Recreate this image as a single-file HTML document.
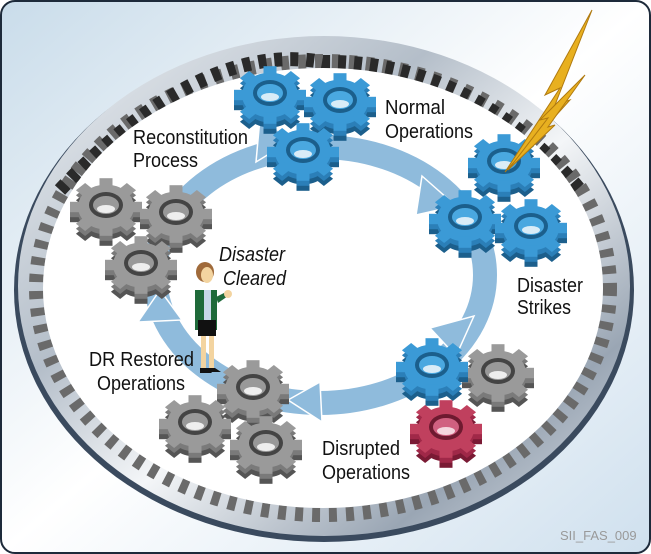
<!DOCTYPE html>
<html><head><meta charset="utf-8"><style>
html,body{margin:0;padding:0;width:651px;height:554px;overflow:hidden;background:#fff}
svg{display:block}
text{font-family:"Liberation Sans",sans-serif;font-size:20px;fill:#111}
</style></head><body>
<svg width="651" height="554" viewBox="0 0 651 554" xmlns="http://www.w3.org/2000/svg">
<defs>
<linearGradient id="bg" x1="0" y1="0" x2="1" y2="1">
<stop offset="0" stop-color="#c9dcea"/><stop offset="0.5" stop-color="#ffffff"/><stop offset="1" stop-color="#cfe0ee"/></linearGradient>
<linearGradient id="ring" x1="0" y1="0" x2="1" y2="1">
<stop offset="0" stop-color="#eef1f4"/><stop offset="0.35" stop-color="#b4bec9"/><stop offset="0.55" stop-color="#f4f6f8"/><stop offset="0.8" stop-color="#9aa6b4"/><stop offset="1" stop-color="#dfe4ea"/></linearGradient>
<g id="gs">
<circle r="28"/>
<rect x="-6.5" y="-36" width="13" height="14"/>
<rect x="-6.5" y="-36" width="13" height="14" transform="rotate(45)"/>
<rect x="-6.5" y="-36" width="13" height="14" transform="rotate(90)"/>
<rect x="-6.5" y="-36" width="13" height="14" transform="rotate(135)"/>
<rect x="-6.5" y="-36" width="13" height="14" transform="rotate(180)"/>
<rect x="-6.5" y="-36" width="13" height="14" transform="rotate(225)"/>
<rect x="-6.5" y="-36" width="13" height="14" transform="rotate(270)"/>
<rect x="-6.5" y="-36" width="13" height="14" transform="rotate(315)"/>
</g>
<g id="gb">
<g transform="translate(0,10) scale(1,0.8)" fill="#1c5f8c"><use href="#gs"/></g>
<g fill="#2b7fb8" transform="translate(0,5) scale(1,0.8)"><use href="#gs"/></g>
<g fill="#3b9ad6" transform="scale(1,0.8)"><use href="#gs"/></g>
<ellipse cx="0" cy="-2" rx="17" ry="13" fill="#1b5f8c"/>
<ellipse cx="0" cy="-2" rx="13" ry="9" fill="#4aa8e0"/>
<ellipse cx="0" cy="2" rx="9" ry="4" fill="#d9ecf7"/>
</g>
<g id="gg">
<g transform="translate(0,10) scale(1,0.8)" fill="#555"><use href="#gs"/></g>
<g fill="#7a7a7a" transform="translate(0,5) scale(1,0.8)"><use href="#gs"/></g>
<g fill="#9a9a9a" transform="scale(1,0.8)"><use href="#gs"/></g>
<ellipse cx="0" cy="-2" rx="17" ry="13" fill="#444"/>
<ellipse cx="0" cy="-2" rx="13" ry="9" fill="#999"/>
<ellipse cx="0" cy="2" rx="9" ry="4" fill="#eee"/>
</g>
<g id="gr">
<g transform="translate(0,10) scale(1,0.8)" fill="#7a1a34"><use href="#gs"/></g>
<g fill="#a02848" transform="translate(0,5) scale(1,0.8)"><use href="#gs"/></g>
<g fill="#c0405e" transform="scale(1,0.8)"><use href="#gs"/></g>
<ellipse cx="0" cy="-2" rx="17" ry="13" fill="#6e1a30"/>
<ellipse cx="0" cy="-2" rx="13" ry="9" fill="#d06080"/>
<ellipse cx="0" cy="2" rx="9" ry="4" fill="#f4d6de"/>
</g>
</defs>
<rect x="1" y="1" width="649" height="552" rx="14" fill="url(#bg)" stroke="#1d2a3a" stroke-width="2"/>
<!-- ring -->
<ellipse cx="324" cy="290" rx="310" ry="252" fill="#3a4a5e"/>
<ellipse cx="324" cy="286" rx="306" ry="250" fill="url(#ring)"/>
<ellipse cx="323" cy="288" rx="287" ry="227" fill="none" stroke="#6a6a6a" stroke-width="14" stroke-dasharray="8 9"/>
<path d="M60,190 Q200,40 323,62 Q470,60 580,190" fill="none" stroke="#2a2a2a" stroke-width="14" stroke-dasharray="8 8"/>
<ellipse cx="323" cy="288" rx="280" ry="220" fill="#fff"/>
<!-- blue arrow ring -->
<ellipse cx="320" cy="275" rx="165" ry="128" fill="none" stroke="#8fbbdc" stroke-width="24"/>
<g fill="#8fbbdc" stroke="#fff" stroke-width="1.5">
<polygon points="260,118 292,140 256,162"/>
<polygon points="422,176 456,206 416,215"/>
<polygon points="474,316 456,356 430,328"/>
<polygon points="320,382 288,400 322,422"/>
<polygon points="138,322 160,290 182,320"/>
</g>
<!-- gears -->
<use href="#gb" x="270" y="95"/>
<use href="#gb" x="340" y="102"/>
<use href="#gb" x="303" y="152"/>
<use href="#gb" x="504" y="163"/>
<use href="#gb" x="465" y="219"/>
<use href="#gb" x="531" y="228"/>
<use href="#gg" x="498" y="373"/>
<use href="#gb" x="432" y="367"/>
<use href="#gr" x="446" y="429"/>
<use href="#gg" x="253" y="389"/>
<use href="#gg" x="195" y="424"/>
<use href="#gg" x="266" y="445"/>
<use href="#gg" x="106" y="207"/>
<use href="#gg" x="176" y="214"/>
<use href="#gg" x="141" y="265"/>
<!-- lightning -->
<polygon points="592,10 545,95 560,88 505,172 570,100 555,105" fill="#e8b020" stroke="#b07a10" stroke-width="1"/>
<polygon points="585,75 540,120 548,118 508,170 555,125 548,127" fill="#e8b020" stroke="#b07a10" stroke-width="1"/>
<!-- woman -->
<g>
<ellipse cx="205" cy="272" rx="9" ry="10" fill="#a06a3a"/>
<ellipse cx="207" cy="275" rx="6" ry="8" fill="#f3d4a0"/>
<rect x="195" y="290" width="22" height="40" fill="#1f6a3a"/>
<rect x="204" y="290" width="7" height="30" fill="#c8d8e8"/>
<path d="M216,297 L226,292 L228,296 L218,303Z" fill="#1f6a3a"/>
<circle cx="228" cy="294" r="4" fill="#f3d4a0"/>
<rect x="198" y="320" width="18" height="16" fill="#111"/>
<rect x="201" y="336" width="5" height="32" fill="#f3d4a0"/>
<rect x="209" y="336" width="5" height="32" fill="#f3d4a0"/>
<path d="M200,368 h8 l4,5 h-12z M208,368 h7 l6,4 h-13z" fill="#111"/>
</g>
<!-- labels -->
<text x="385" y="114" textLength="60" lengthAdjust="spacingAndGlyphs">Normal</text>
<text x="385" y="138" textLength="88" lengthAdjust="spacingAndGlyphs">Operations</text>
<text x="133" y="144" textLength="115" lengthAdjust="spacingAndGlyphs">Reconstitution</text>
<text x="133" y="167" textLength="65" lengthAdjust="spacingAndGlyphs">Process</text>
<text x="517" y="292" textLength="66" lengthAdjust="spacingAndGlyphs">Disaster</text>
<text x="517" y="314" textLength="54" lengthAdjust="spacingAndGlyphs">Strikes</text>
<text x="89" y="366" textLength="105" lengthAdjust="spacingAndGlyphs">DR Restored</text>
<text x="97" y="390" textLength="88" lengthAdjust="spacingAndGlyphs">Operations</text>
<text x="322" y="455" textLength="78" lengthAdjust="spacingAndGlyphs">Disrupted</text>
<text x="322" y="479" textLength="88" lengthAdjust="spacingAndGlyphs">Operations</text>
<text x="219" y="261" font-style="italic" textLength="66" lengthAdjust="spacingAndGlyphs">Disaster</text>
<text x="223" y="285" font-style="italic" textLength="63" lengthAdjust="spacingAndGlyphs">Cleared</text>
<text x="560" y="540" style="font-size:13px;fill:#999">SII_FAS_009</text>
</svg>
</body></html>
